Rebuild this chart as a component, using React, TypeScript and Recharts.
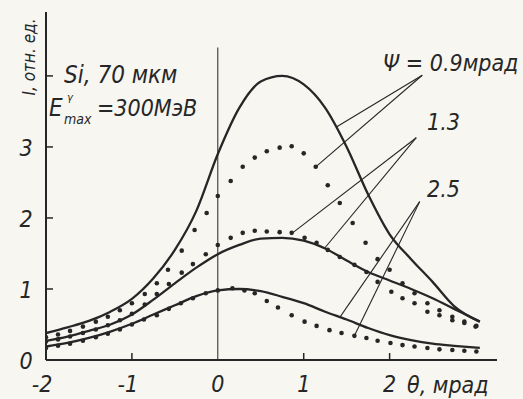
import React from 'react';
import { ComposedChart, Line, Scatter, XAxis, YAxis, ReferenceLine } from 'recharts';

// theory curves (theta in mrad, I in rel. units)
const thetaCurve = [-2, -1.75, -1.5, -1.25, -1, -0.75, -0.5, -0.25, 0, 0.25, 0.5, 0.75, 1, 1.25, 1.5, 1.75, 2, 2.25, 2.5, 2.75, 3.05];
const curve09 = [0.38, 0.46, 0.55, 0.68, 0.86, 1.15, 1.55, 2.1, 2.9, 3.55, 3.92, 4.0, 3.88, 3.55, 3.0, 2.33, 1.77, 1.42, 1.1, 0.76, 0.54];
const curve13 = [0.27, 0.33, 0.41, 0.5, 0.64, 0.85, 1.08, 1.3, 1.49, 1.62, 1.71, 1.72, 1.68, 1.57, 1.4, 1.24, 1.12, 1.0, 0.87, 0.72, 0.54];
const curve25 = [0.19, 0.24, 0.31, 0.4, 0.51, 0.64, 0.77, 0.9, 0.98, 1.0, 0.97, 0.89, 0.8, 0.68, 0.57, 0.45, 0.35, 0.28, 0.23, 0.2, 0.17];

// experimental points
const thetaDots09 = [-2, -1.86, -1.72, -1.57, -1.42, -1.28, -1.14, -1, -0.85, -0.71, -0.58, -0.42, -0.27, -0.13, 0, 0.15, 0.29, 0.43, 0.57, 0.72, 0.86, 1, 1.14, 1.28, 1.42, 1.57, 1.72, 1.86, 2, 2.15, 2.29, 2.44, 2.58, 2.73, 2.87, 3.01];
const dots09 = [0.32, 0.36, 0.41, 0.47, 0.54, 0.61, 0.7, 0.8, 0.93, 1.08, 1.27, 1.54, 1.83, 2.07, 2.31, 2.52, 2.72, 2.85, 2.94, 2.99, 3.01, 2.91, 2.72, 2.46, 2.21, 1.93, 1.65, 1.42, 1.27, 1.08, 0.94, 0.8, 0.7, 0.61, 0.54, 0.48];
const thetaDots13 = [-2, -1.86, -1.72, -1.57, -1.42, -1.28, -1.14, -1, -0.85, -0.71, -0.57, -0.42, -0.29, -0.14, 0, 0.15, 0.29, 0.43, 0.57, 0.72, 0.86, 1.01, 1.15, 1.28, 1.42, 1.59, 1.73, 1.86, 2.02, 2.15, 2.29, 2.44, 2.58, 2.73, 2.87, 3];
const dots13 = [0.26, 0.29, 0.33, 0.38, 0.43, 0.49, 0.56, 0.65, 0.78, 0.93, 1.07, 1.23, 1.35, 1.49, 1.62, 1.72, 1.79, 1.82, 1.81, 1.8, 1.79, 1.72, 1.65, 1.55, 1.45, 1.34, 1.24, 1.1, 0.96, 0.87, 0.8, 0.68, 0.63, 0.56, 0.52, 0.47];
const thetaDots25 = [-2, -1.86, -1.72, -1.57, -1.42, -1.28, -1.14, -1, -0.86, -0.71, -0.57, -0.43, -0.29, -0.14, 0, 0.17, 0.31, 0.43, 0.57, 0.7, 0.86, 1.01, 1.15, 1.3, 1.44, 1.59, 1.73, 1.86, 2.01, 2.15, 2.29, 2.44, 2.58, 2.73, 2.87, 3.01];
const dots25 = [0.17, 0.2, 0.23, 0.27, 0.32, 0.37, 0.43, 0.5, 0.57, 0.63, 0.72, 0.8, 0.87, 0.94, 0.98, 1.01, 0.98, 0.94, 0.83, 0.74, 0.63, 0.54, 0.48, 0.42, 0.38, 0.34, 0.31, 0.27, 0.24, 0.21, 0.19, 0.17, 0.15, 0.14, 0.13, 0.12];

const xTicks = [-2, -1, 0, 1, 2];
const xTickLabels = ['-2', '-1', '0', '1', '2'];
const yTicks = [0, 1, 2, 3, 4];
const yTickLabels = ['0', '1', '2', '3', ''];

// leader lines: label anchor -> curve point, label anchor -> dot
const leaders = [
    { from: { x: 2.38, y: 4.01 }, to: [{ x: 1.38, y: 3.28 }, { x: 1.14, y: 2.72 }] },
    { from: { x: 2.31, y: 3.13 }, to: [{ x: 1.24, y: 1.57 }, { x: 0.87, y: 1.79 }] },
    { from: { x: 2.35, y: 2.23 }, to: [{ x: 1.42, y: 0.6 }, { x: 1.59, y: 0.34 }] },
];

const toPoints = (xs: number[], ys: number[]) => xs.map((x, i) => ({ x, y: ys[i] }));

const INK = '#262626';
const PAPER = '#f7f6f1';
const FONT = "'DejaVu Sans Condensed', 'Liberation Sans Narrow', 'DejaVu Sans', sans-serif";

const XTick = (props: any) => {
    const { x, y, payload } = props;
    const v = payload.value;
    const i = xTicks.indexOf(v);
    return (
        <g>
            {v !== -2 && v !== 0 && <line x1={x} y1={y} x2={x} y2={y - 7} stroke={INK} strokeWidth={1.5} />}
            <text x={x + (v < 0 ? -4 : 0)} y={y + 32} textAnchor="middle" fontFamily={FONT} fontStyle="italic" fontSize={23} fill={INK}>
                {xTickLabels[i]}
            </text>
        </g>
    );
};

const YTick = (props: any) => {
    const { x, y, payload } = props;
    const v = payload.value;
    const i = yTicks.indexOf(v);
    return (
        <g>
            {v !== 0 && <line x1={x} y1={y} x2={x + 7} y2={y} stroke={INK} strokeWidth={1.5} />}
            <text x={x - 20} y={y + 9} textAnchor="middle" fontFamily={FONT} fontStyle="italic" fontSize={23} fill={INK}>
                {yTickLabels[i]}
            </text>
        </g>
    );
};

const Dot = (props: any) => <circle cx={props.cx} cy={props.cy} r={2.3} fill={INK} />;

export default function App() {
    const txt = { fontFamily: FONT, fontStyle: 'italic' as const, fill: INK };
    return (
        <div style={{ position: 'absolute', left: 0, top: 0, width: 523, height: 399, background: PAPER }}>
            <ComposedChart width={523} height={399} margin={{ top: 12, right: 26, bottom: 0, left: 0 }}>
                <XAxis
                    type="number"
                    dataKey="x"
                    domain={[-2, 3.25]}
                    ticks={xTicks}
                    interval={0}
                    height={39}
                    tickSize={0}
                    tickMargin={0}
                    tick={<XTick />}
                    axisLine={{ stroke: INK, strokeWidth: 2 }}
                    allowDataOverflow
                />
                <YAxis
                    type="number"
                    dataKey="y"
                    domain={[0, 4.9]}
                    ticks={yTicks}
                    interval={0}
                    width={46}
                    tickSize={0}
                    tickMargin={0}
                    tick={<YTick />}
                    axisLine={{ stroke: INK, strokeWidth: 2 }}
                    allowDataOverflow
                />
                <ReferenceLine segment={[{ x: 0, y: 0 }, { x: 0, y: 4.4 }]} stroke={INK} strokeWidth={1} />
                {leaders.map((l, i) =>
                    l.to.map((t, j) => (
                        <ReferenceLine key={`${i}-${j}`} segment={[l.from, t]} stroke={INK} strokeWidth={1.1} ifOverflow="visible" />
                    ))
                )}
                <Line data={toPoints(thetaCurve, curve09)} dataKey="y" type="monotone" stroke={INK} strokeWidth={2.3} dot={false} isAnimationActive={false} />
                <Line data={toPoints(thetaCurve, curve13)} dataKey="y" type="monotone" stroke={INK} strokeWidth={2.3} dot={false} isAnimationActive={false} />
                <Line data={toPoints(thetaCurve, curve25)} dataKey="y" type="monotone" stroke={INK} strokeWidth={2.3} dot={false} isAnimationActive={false} />
                <Scatter data={toPoints(thetaDots09, dots09)} dataKey="y" shape={<Dot />} isAnimationActive={false} />
                <Scatter data={toPoints(thetaDots13, dots13)} dataKey="y" shape={<Dot />} isAnimationActive={false} />
                <Scatter data={toPoints(thetaDots25, dots25)} dataKey="y" shape={<Dot />} isAnimationActive={false} />
            </ComposedChart>
            <svg width={523} height={399} style={{ position: 'absolute', left: 0, top: 0, pointerEvents: 'none' }}>
                <text x={35} y={57} transform="rotate(-90 35 57)" textAnchor="middle" fontSize={17} {...txt}>I, отн. ед.</text>
                <text x={64} y={83} fontSize={24} {...txt}>Si, 70 мкм</text>
                <text x={49} y={116} fontSize={24} {...txt}>E</text>
                <text x={67} y={101} fontSize={11} {...txt}>γ</text>
                <text x={64} y={124} fontSize={14} {...txt}>max</text>
                <text x={97} y={116} fontSize={23} {...txt}>=300МэВ</text>
                <text x={383} y={71} fontSize={23} {...txt}>Ψ = 0.9мрад</text>
                <text x={427} y={130} fontSize={23} {...txt}>1.3</text>
                <text x={427} y={197} fontSize={23} {...txt}>2.5</text>
                <text x={407} y={393} fontSize={23} {...txt}>θ, мрад</text>
            </svg>
        </div>
    );
}
